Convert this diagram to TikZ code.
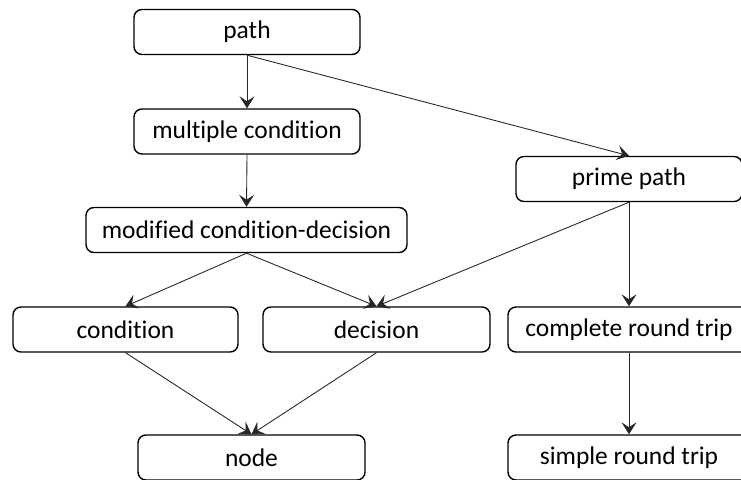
\documentclass[tikz,border=0pt]{standalone}
\usepackage{fontspec}
\setmainfont{Carlito}[Ligatures={NoCommon,NoContextual}]
\usetikzlibrary{arrows.meta}

\begin{document}
\begin{tikzpicture}[
    box/.style={draw, rounded corners=4.5pt, line width=0.8pt, minimum width=4.52cm, minimum height=0.9cm, align=center, font=\fontsize{14.5}{17}\selectfont},
    wide/.style={box, minimum width=4.84cm},
    arrow/.style={-{Stealth[length=2.4mm, width=3mm, inset=1mm]}, line width=0.5pt, black!85}
]
    \useasboundingbox (0,0) rectangle (14.82,9.58);
    \clip (0,0) rectangle (14.82,9.58);
    % left column
    \node[box] (path) at (4.94,8.94) {path};
    \node[box] (mc) at (4.94,6.95) {multiple condition};
    \node[box, minimum width=6.42cm] (mcdc) at (4.93,4.98) {modified condition-decision};
    \node[box, minimum width=4.5cm] (cond) at (2.51,2.99) {condition};
    \node[box, minimum width=4.54cm] (dec) at (7.53,2.99) {decision};
    \node[box, minimum width=4.54cm] (nd) at (5.03,0.43) {node};
    % right column
    \node[box] (pp) at (12.58,6.0) {prime path};
    \node[wide] (crt) at (12.58,2.99) {complete round trip};
    \node[wide] (srt) at (12.58,0.43) {simple round trip};
    % subsumption edges
    \draw[arrow] (path.south) -- (mc.north);
    \draw[arrow] (path.south) -- (pp.north);
    \draw[arrow] (mc.south) -- (mcdc.north);
    \draw[arrow] (mcdc.south) -- (cond.north);
    \draw[arrow] (mcdc.south) -- (dec.north);
    \draw[arrow] (pp.south) -- (dec.north);
    \draw[arrow] (pp.south) -- (crt.north);
    \draw[arrow] (cond.south) -- (nd.north);
    \draw[arrow] (dec.south) -- (nd.north);
    \draw[arrow] (crt.south) -- (srt.north);
\end{tikzpicture}
\end{document}
